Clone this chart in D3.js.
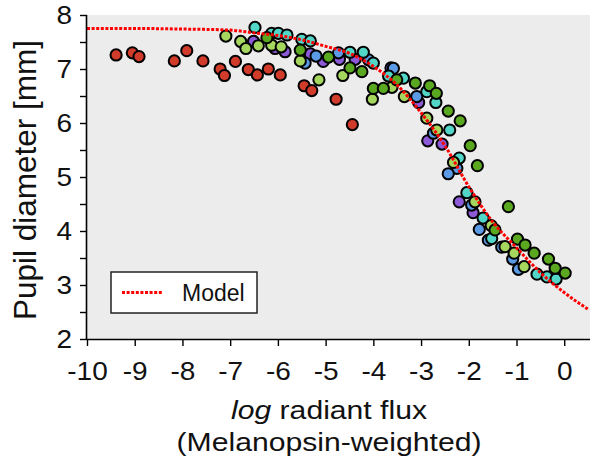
<!DOCTYPE html>
<html><head><meta charset="utf-8">
<script src="https://cdn.jsdelivr.net/npm/d3@7"></script>
<style>body{margin:0;background:#fff;} text{font-family:"Liberation Sans",Arial,sans-serif;}</style>
</head><body><svg id="c" width="590" height="461"></svg>
<script>
const xTicks = [-10,-9,-8,-7,-6,-5,-4,-3,-2,-1,0];
const yTicks = [2,2.5,3,3.5,4,4.5,5,5.5,6,6.5,7,7.5,8];
const yLabels = [2,3,4,5,6,7,8];

const modelX = [-10,-9,-8,-7,-6.5,-6,-5.5,-5,-4.5,-4,-3.5,-3,-2.5,-2,-1.5,-1,-0.5,0,0.5];
const modelY = [7.75,7.75,7.74,7.72,7.67,7.62,7.54,7.42,7.29,7.05,6.70,6.19,5.58,4.82,4.17,3.69,3.23,2.86,2.55];

const red = [[-9.39,7.26],[-9.05,7.30],[-8.91,7.23],[-8.17,7.15],[-7.91,7.34],[-7.57,7.15],[-7.21,7.00],[-7.12,6.88],[-6.89,7.14],[-6.62,6.99],[-6.43,6.89],[-6.20,7.00],[-5.95,6.89],[-5.45,6.69],[-5.29,6.60],[-4.78,6.44],[-4.44,5.97]];
const purple = [[-6.51,7.51],[-6.06,7.38],[-5.85,7.32],[-5.32,7.28],[-5.05,7.14],[-4.71,7.18],[-4.38,7.18],[-3.63,7.02],[-3.05,6.38],[-2.86,5.67],[-2.56,5.61],[-2.20,4.54],[-1.91,4.34]];
const blue = [[-5.43,7.11],[-5.20,7.24],[-4.73,7.30],[-4.10,7.17],[-3.58,7.01],[-3.09,6.49],[-2.74,5.81],[-2.25,5.16],[-2.43,5.06],[-1.94,4.48],[-1.78,4.03],[-1.59,3.83],[-1.31,3.70],[-1.08,3.48],[-0.96,3.29]];
const cyan = [[-6.48,7.77],[-6.13,7.66],[-5.99,7.66],[-5.81,7.63],[-5.50,7.55],[-5.32,7.52],[-4.49,7.31],[-4.21,7.31],[-4.00,7.11],[-3.68,6.87],[-3.37,6.83],[-2.88,6.58],[-2.69,6.38],[-2.40,5.87],[-2.20,5.35],[-2.04,4.71],[-1.70,4.24],[-1.52,3.86],[-0.57,3.20],[-0.36,3.15],[-0.17,3.11]];
const lightGreen = [[-7.09,7.61],[-6.78,7.51],[-6.67,7.38],[-6.41,7.43],[-6.13,7.44],[-5.93,7.41],[-5.53,7.15],[-5.14,6.80],[-4.64,6.88],[-4.02,6.44],[-3.61,6.66],[-3.35,6.49],[-2.88,6.09],[-2.67,5.87],[-2.32,5.27],[-1.87,4.54],[-1.53,4.10],[-1.24,3.71],[-1.05,3.59],[-0.84,3.34]];
const darkGreen = [[-6.23,7.58],[-5.53,7.35],[-4.94,7.22],[-4.49,7.02],[-4.24,6.95],[-4.00,6.64],[-3.79,6.64],[-3.51,6.80],[-3.12,6.74],[-2.82,6.69],[-2.68,6.55],[-2.43,6.22],[-2.18,6.04],[-1.97,5.58],[-1.82,5.21],[-1.45,4.02],[-1.17,4.45],[-0.98,3.85],[-0.82,3.74],[-0.63,3.59],[-0.33,3.48],[-0.19,3.31],[0.02,3.22]];

const series = [
  {data: red, color: "#d13b2a"},
  {data: purple, color: "#8c5ad8"},
  {data: blue, color: "#5b9be6"},
  {data: cyan, color: "#52d6c8"},
  {data: lightGreen, color: "#a5d75e"},
  {data: darkGreen, color: "#5aa820"}
];

const L = 87, R = 590, T = 15, B = 339;
const x = d3.scaleLinear().domain([-10, 0.54]).range([L, R]);
const y = d3.scaleLinear().domain([2, 8]).range([B, T]);
const svg = d3.select("#c");

svg.append("rect").attr("x", L).attr("y", T).attr("width", R - L).attr("height", B - T).attr("fill", "#ececec");

series.forEach(s => {
  svg.append("g").selectAll("circle").data(s.data).join("circle")
    .attr("cx", d => x(d[0])).attr("cy", d => y(d[1])).attr("r", 5.6)
    .attr("fill", s.color).attr("stroke", "#000").attr("stroke-width", 2);
});

const line = d3.line().x(d => x(d[0])).y(d => y(d[1])).curve(d3.curveMonotoneX);
svg.append("path").datum(modelX.map((v, i) => [v, modelY[i]]))
  .attr("d", line).attr("fill", "none").attr("stroke", "#ff0000")
  .attr("stroke-width", 3).attr("stroke-dasharray", "3,1.6");

const xAxis = d3.axisBottom(x).tickValues(xTicks).tickSize(7).tickFormat(d3.format("d"));
const gx = svg.append("g").attr("transform", `translate(0,${B})`).call(xAxis);
gx.select(".domain").attr("d", `M${L},0.5H${R}`).attr("stroke", "#000").attr("stroke-width", 1.6);
gx.selectAll(".tick line").attr("stroke", "#000").attr("stroke-width", 1.4);
gx.selectAll(".tick text").attr("font-size", 25).attr("fill", "#111").attr("y", 0).attr("dy", null)
  .attr("transform", "translate(0,41) scale(1.12,1)")
  .text(d => d < 0 ? "-" + Math.abs(d) : d);

const yAxis = d3.axisLeft(y).tickValues(yTicks).tickSize(7).tickFormat(d => yLabels.includes(d) ? d : "");
const gy = svg.append("g").attr("transform", `translate(${L},0)`).call(yAxis);
gy.select(".domain").attr("d", `M-0.5,${T}V${B}`).attr("stroke", "#000").attr("stroke-width", 1.6);
gy.selectAll(".tick line").attr("stroke", "#000").attr("stroke-width", 1.4);
gy.selectAll(".tick text").attr("font-size", 25).attr("fill", "#111").attr("x", 0)
  .attr("transform", "translate(-15,0) scale(1.12,1)");

const xt = svg.append("text").attr("transform", "translate(329,419) scale(1.16,1)").attr("text-anchor", "middle").attr("font-size", 26).attr("fill", "#111");
xt.append("tspan").attr("font-style", "italic").text("log");
xt.append("tspan").text(" radiant flux");
svg.append("text").attr("transform", "translate(329,451) scale(1.16,1)").attr("text-anchor", "middle").attr("font-size", 26).attr("fill", "#111").text("(Melanopsin-weighted)");
svg.append("text").attr("transform", "translate(36,180) rotate(-90)").attr("text-anchor", "middle").attr("font-size", 31.5).attr("fill", "#111").text("Pupil diameter [mm]");

const lg = svg.append("g");
lg.append("rect").attr("x", 111).attr("y", 272).attr("width", 146).attr("height", 41).attr("fill", "#fff").attr("stroke", "#222").attr("stroke-width", 1.5);
lg.append("line").attr("x1", 122).attr("x2", 162).attr("y1", 292.5).attr("y2", 292.5).attr("stroke", "#ff0000").attr("stroke-width", 3).attr("stroke-dasharray", "3,1.6");
lg.append("text").attr("x", 182).attr("y", 301).attr("font-size", 23).attr("fill", "#111").text("Model");
</script></body></html>
